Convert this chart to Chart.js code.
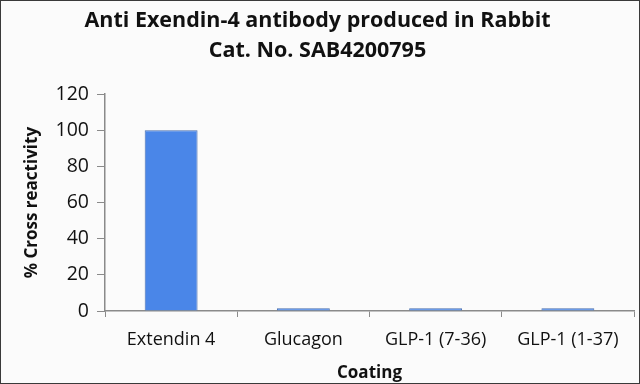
<!DOCTYPE html>
<html>
<head>
<meta charset="utf-8">
<script src="https://cdn.jsdelivr.net/npm/chart.js@4/dist/chart.umd.min.js"></script>
<style>
  html, body { margin: 0; padding: 0; background: #ffffff; }
  #wrap { position: relative; width: 640px; height: 384px; box-sizing: border-box; border: 1px solid #3a3a3a; background: #fbfbfb; }
  canvas { display: block; }
</style>
</head>
<body>
<div id="wrap"><canvas id="c" width="638" height="382"></canvas></div>
<script>
const titleLines = ["Anti Exendin-4 antibody produced in Rabbit", "Cat. No. SAB4200795"];
const categories = ["Extendin 4", "Glucagon", "GLP-1 (7-36)", "GLP-1 (1-37)"];
const crossReactivity = [100, 1.5, 1.5, 1.5];
const yTicks = [0, 20, 40, 60, 80, 100, 120];
const xTitle = "Coating";
const yTitle = "% Cross reactivity";

const FONT = "'Open Sans', Lato, sans-serif";
const axisColor = "#8a8a8a";

new Chart(document.getElementById("c"), {
  type: "bar",
  data: {
    labels: categories,
    datasets: [{
      data: crossReactivity,
      backgroundColor: "#4a86e8",
      borderColor: "#4a6fae",
      borderWidth: 1,
      categoryPercentage: 1,
      barPercentage: 0.4
    }]
  },
  options: {
    responsive: false,
    animation: false,
    layout: { padding: { left: 0, right: 5, top: 0, bottom: 0 } },
    plugins: {
      legend: { display: false },
      tooltip: { enabled: false },
      title: {
        display: true,
        text: titleLines,
        color: "#111",
        font: { family: FONT, size: 21.5, weight: "bold", lineHeight: 1.4 },
        padding: { top: 5, bottom: 28 }
      }
    },
    scales: {
      x: {
        grid: { display: true, drawOnChartArea: false, offset: true, color: axisColor, tickLength: 6, tickColor: axisColor },
        border: { display: true, color: axisColor, width: 1.5 },
        ticks: { color: "#111", font: { family: FONT, size: 18 }, padding: 12, maxRotation: 0 },
        title: { display: true, text: xTitle, color: "#111", font: { family: FONT, size: 17, weight: "bold" }, padding: { top: 0, bottom: 0 } },
        afterFit: (s) => { s.height = 72; }
      },
      y: {
        min: 0, max: 120,
        afterBuildTicks: (s) => { s.ticks = yTicks.map(v => ({ value: v })); },
        grid: { display: true, drawOnChartArea: false, color: axisColor, tickLength: 8, tickColor: axisColor },
        border: { display: true, color: axisColor, width: 1.5 },
        ticks: { color: "#111", font: { family: FONT, size: 19.5 }, padding: 8 },
        title: { display: true, text: yTitle, color: "#111", font: { family: FONT, size: 17, weight: "bold" }, padding: { top: 21, bottom: 4 } },
        afterFit: (s) => { s.width = 104; }
      }
    }
  }
});
</script>
</body>
</html>
